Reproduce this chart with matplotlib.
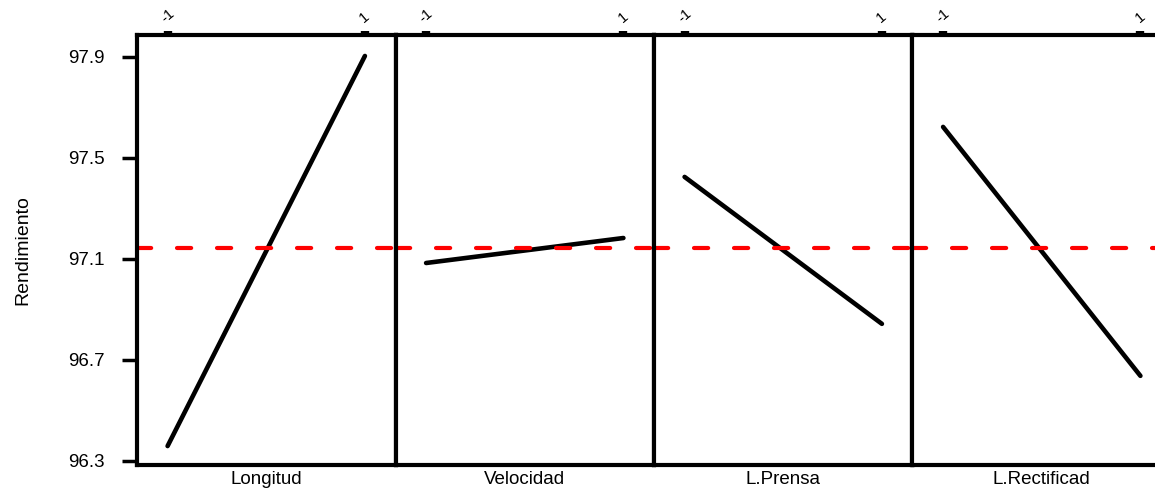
import numpy as np
import matplotlib.pyplot as plt

plt.rcParams['font.family'] = ['Liberation Sans', 'DejaVu Sans']

# factor names and mean response at the low (-1) and high (1) levels
factors = ["Longitud", "Velocidad", "L.Prensa", "L.Rectificad"]
levels = [-1, 1]
low_means = [96.359, 97.084, 97.425, 97.623]
high_means = [97.904, 97.183, 96.843, 96.637]
grand_mean = 97.144

yticks = [96.3, 96.7, 97.1, 97.5, 97.9]

W, H = 1155, 492
fig = plt.figure(figsize=(W / 100, H / 100), dpi=100)

left_px, panel_px = 137, 258.5
bottom_px, top_px = 465, 35

for i, name in enumerate(factors):
    ax = fig.add_axes([(left_px + i * panel_px) / W, (H - bottom_px) / H,
                       panel_px / W, (bottom_px - top_px) / H])
    ax.plot(levels, [low_means[i], high_means[i]], color="black", lw=3.3,
            solid_capstyle="round")
    ax.axhline(grand_mean, color="red", lw=3, dashes=(3.4, 6.2),
               dash_capstyle="round")
    ax.set_xlim(-1.31, 1.31)
    ax.set_ylim(96.284, 97.987)

    for s in ax.spines.values():
        s.set_linewidth(3)

    # factor levels on top, ticks drawn as small dots
    ax.xaxis.tick_top()
    ax.set_xticks(levels)
    ax.set_xticklabels(["-1", "1"], rotation=40, fontsize=10.5)
    ax.tick_params(axis="x", length=3, width=6, pad=4)
    ax.set_xlabel(name, fontsize=13.5)
    ax.xaxis.set_label_position("bottom")

    if i == 0:
        ax.set_yticks(yticks)
        ax.set_yticklabels([f"{v:.1f}" for v in yticks], fontsize=13.5)
        ax.tick_params(axis="y", length=11, width=2.5, pad=12)
        ax.set_ylabel("Rendimiento", fontsize=14, labelpad=27)
    else:
        ax.set_yticks([])

fig.savefig("out.png", dpi=100)
